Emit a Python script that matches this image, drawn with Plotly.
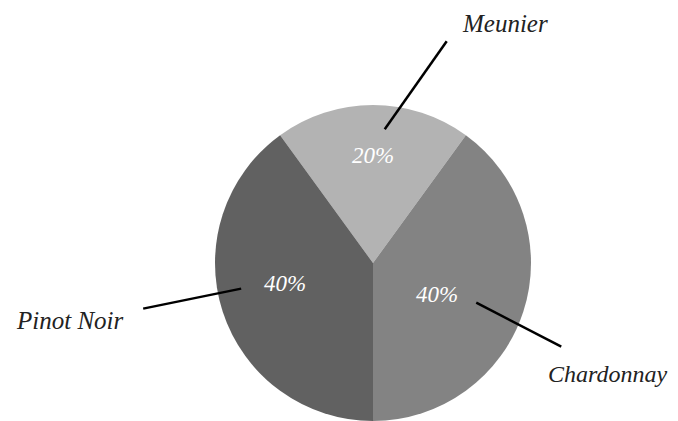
import math
import plotly.graph_objects as go

# ---- data ----
labels = ["Meunier", "Chardonnay", "Pinot Noir"]
values = [20, 40, 40]
colors = ["#b3b3b3", "#838383", "#616161"]

# ---- layout params (reference pixels) ----
PAGE_OFF = 8                      # browser body margin
W, H = 678 - PAGE_OFF, 421 - PAGE_OFF
cx, cy, r = 373, 263, 158
rotation = -36  # first slice starts 36 deg left of 12 o'clock

# per-label leader styling: angle offset (deg), radius fraction, line vector, text offset
angle_off = [5, 3, 7]
rad_frac = [0.85, 0.70, 0.85]
line_vec = [(62, -88), (85, 44), (-98, 20)]
text_off = [(58, -18), (46, 27), (-73, 12)]
label_sizes = [25, 24, 25]

# percent text placement: angle offset (deg), radius fraction
pct_angle_off = [0, 8.6, 4.6]
pct_rad_frac = [0.68, 0.45, 0.57]

label_font = dict(family="Liberation Serif", color="#222222", style="italic")
pct_font = dict(family="Liberation Serif", size=23, color="white", style="italic")


def to_paper(px, py):
    return (px - PAGE_OFF) / W, 1 - (py - PAGE_OFF) / H


dx0, dy1 = to_paper(cx - r, cy - r)
dx1, dy0 = to_paper(cx + r, cy + r)

fig = go.Figure(go.Pie(
    labels=labels,
    values=values,
    sort=False,
    direction="clockwise",
    rotation=rotation,
    marker=dict(colors=colors, line=dict(width=0)),
    textinfo="none",
    showlegend=False,
    hoverinfo="label+percent",
    domain=dict(x=[max(0, dx0), min(1, dx1)], y=[max(0, dy0), min(1, dy1)]),
))

total = sum(values)
cum = 0
shapes, annotations = [], []
for i, (lab, v) in enumerate(zip(labels, values)):
    mid = rotation + (cum + v / 2) / total * 360
    cum += v
    # leader line
    th = math.radians(mid + angle_off[i])
    ax_ = cx + rad_frac[i] * r * math.sin(th)
    ay_ = cy - rad_frac[i] * r * math.cos(th)
    ex = ax_ + line_vec[i][0]
    ey = ay_ + line_vec[i][1]
    x0, y0 = to_paper(ax_, ay_)
    x1, y1 = to_paper(ex, ey)
    shapes.append(dict(type="line", xref="paper", yref="paper", x0=x0, y0=y0, x1=x1, y1=y1,
                       line=dict(color="black", width=2.5)))
    tx, ty = to_paper(ex + text_off[i][0], ey + text_off[i][1])
    annotations.append(dict(x=tx, y=ty, xref="paper", yref="paper", text=lab, showarrow=False,
                            font=dict(size=label_sizes[i], **label_font),
                            xanchor="center", yanchor="middle"))
    # percent text
    tp = math.radians(mid + pct_angle_off[i])
    px_ = cx + pct_rad_frac[i] * r * math.sin(tp)
    py_ = cy - pct_rad_frac[i] * r * math.cos(tp)
    qx, qy = to_paper(px_, py_)
    annotations.append(dict(x=qx, y=qy, xref="paper", yref="paper",
                            text=f"{v / total * 100:.0f}%", showarrow=False,
                            font=pct_font, xanchor="center", yanchor="middle"))

fig.update_layout(
    width=W, height=H,
    margin=dict(l=0, r=0, t=0, b=0),
    paper_bgcolor="white", plot_bgcolor="white",
    shapes=shapes, annotations=annotations,
)

fig.write_html("out.html")
